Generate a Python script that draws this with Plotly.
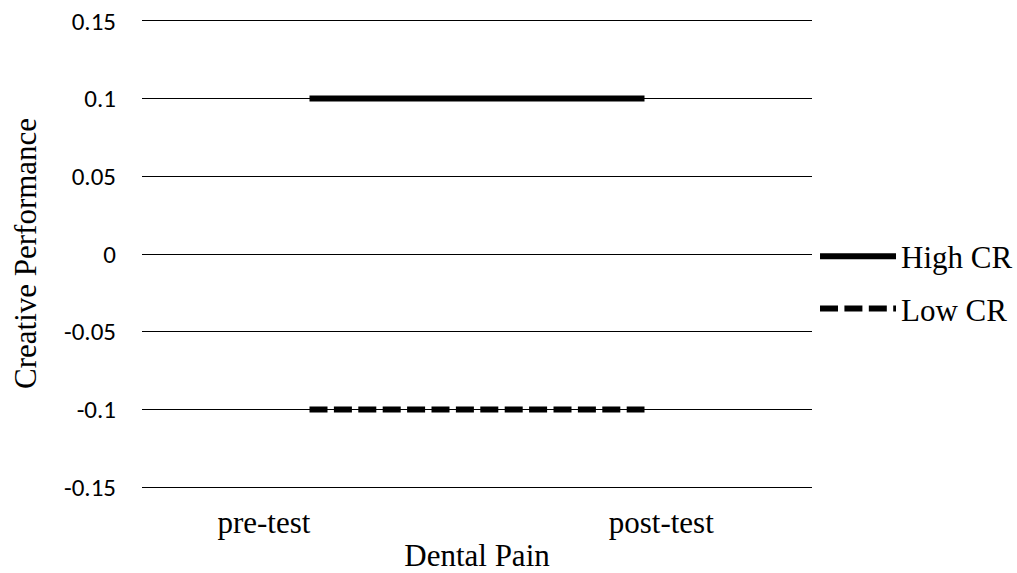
import plotly.graph_objects as go

categories = ["pre-test", "post-test"]
high_cr = [0.1, 0.1]
low_cr = [-0.1, -0.1]
y_ticks = [0.15, 0.1, 0.05, 0, -0.05, -0.1, -0.15]
y_ticktext = ["0.15", "0.1", "0.05", "0", "-0.05", "-0.1", "-0.15"]

x_idx = list(range(len(categories)))
serif = "Liberation Serif, Times New Roman, serif"
sans = "Carlito, Calibri, Lato, sans-serif"

fig = go.Figure()
fig.add_trace(go.Scatter(x=x_idx, y=high_cr, mode="lines", name="High CR",
                         legendgroup="high",
                         line=dict(color="black", width=6)))
fig.add_trace(go.Scatter(x=x_idx, y=low_cr, mode="lines", name="Low CR",
                         legendgroup="low",
                         line=dict(color="black", width=6, dash="18px,6.4px")))

fig.update_layout(
    template="none",
    width=1017, height=573,
    margin=dict(l=142, r=205, t=19.1, b=84.1, autoexpand=False),
    paper_bgcolor="white", plot_bgcolor="white",
    showlegend=True,
    legend=dict(x=1.0045, xanchor="left", y=0.552, yanchor="top",
                font=dict(family=serif, size=31, color="black"),
                itemwidth=76, tracegroupgap=9, traceorder="grouped",
                bgcolor="rgba(0,0,0,0)", borderwidth=0),
    xaxis=dict(range=[-0.5, 1.5], tickvals=[-0.136, 1.05], ticktext=categories,
               automargin=False,
               showgrid=False, zeroline=False, showline=False,
               ticks="outside", ticklen=6, tickcolor="rgba(0,0,0,0)",
               tickfont=dict(family=serif, size=31, color="black"),
               title=dict(text="Dental Pain", standoff=8,
                          font=dict(family=serif, size=31, color="black"))),
    yaxis=dict(range=[-0.1512, 0.1512], tickvals=y_ticks, ticktext=y_ticktext,
               automargin=False, ticklabeloverflow="allow",
               showgrid=True, gridcolor="black", gridwidth=1.3,
               zeroline=False, showline=False,
               ticks="outside", ticklen=20, tickcolor="rgba(0,0,0,0)",
               tickfont=dict(family=sans, size=25, color="black")),
    annotations=[dict(text="Creative Performance", textangle=-90,
                      xref="paper", yref="paper", x=0, y=0.5,
                      xanchor="center", yanchor="middle", xshift=-117,
                      showarrow=False,
                      font=dict(family=serif, size=31, color="black"))],
)

fig.write_html("out.html", config={"displayModeBar": False},
               post_script="document.body.style.margin='0';document.body.style.padding='0';")
